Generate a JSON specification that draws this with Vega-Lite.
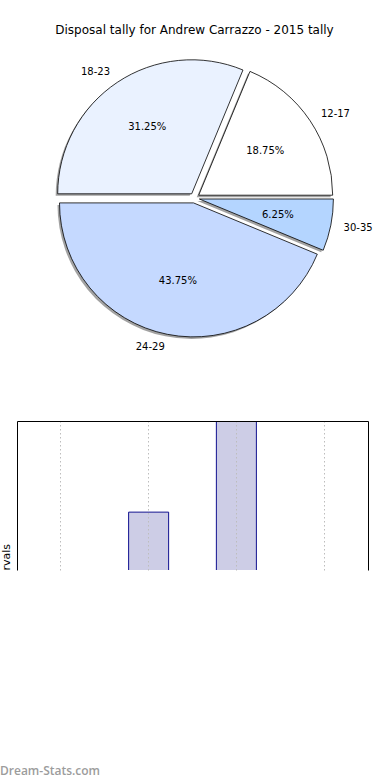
{
  "$schema": "https://vega.github.io/schema/vega-lite/v6.json",
  "padding": {"top": 24, "left": 0, "right": 0, "bottom": 0},
  "background": "white",
  "config": {"view": {"stroke": null}, "font": "DejaVu Sans", "axis": {"domainWidth": 1, "domainColor": "black"}},
  "title": {"text": "Dream-Stats.com", "orient": "bottom", "anchor": "start", "color": "#9c9c9c", "font": "Open Sans", "fontSize": 12, "fontWeight": 600, "offset": 72, "frame": "bounds"},
  "datasets": {
    "tally": [
      {"range": "12-17", "share": 0.1875, "count": 3},
      {"range": "18-23", "share": 0.3125, "count": 5},
      {"range": "24-29", "share": 0.4375, "count": 7},
      {"range": "30-35", "share": 0.0625, "count": 1}
    ]
  },
  "spacing": 68,
  "vconcat": [
    {
      "width": 355,
      "height": 302,
      "title": {"text": "Disposal tally for Andrew Carrazzo - 2015 tally", "font": "DejaVu Sans", "fontSize": 12, "fontWeight": "normal", "color": "black", "offset": 10, "anchor": "middle"},
      "data": {"name": "tally"},
      "encoding": {
        "theta": {"field": "share", "type": "quantitative", "stack": true, "scale": {"domain": [0, 1], "range": [1.5708, -4.7124]}},
        "order": {"field": "range", "type": "ordinal", "sort": "ascending"}
      },
      "layer": [
        {
          "mark": {"type": "arc", "outerRadius": 134, "fill": "#7a7a7a", "opacity": 0.7,
            "xOffset": {"expr": "(datum.range === '12-17' ? 4.2 : datum.range === '18-23' ? -2.8 : datum.range === '24-29' ? -1 : 4.9) - 2"},
            "yOffset": {"expr": "(datum.range === '12-17' ? -2.8 : datum.range === '18-23' ? -4.2 : datum.range === '24-29' ? 4.9 : 1) + 2"}}
        },
        {
          "mark": {"type": "arc", "outerRadius": 134, "stroke": "black", "strokeWidth": 0.8,
            "xOffset": {"expr": "datum.range === '12-17' ? 4.2 : datum.range === '18-23' ? -2.8 : datum.range === '24-29' ? -1 : 4.9"},
            "yOffset": {"expr": "datum.range === '12-17' ? -2.8 : datum.range === '18-23' ? -4.2 : datum.range === '24-29' ? 4.9 : 1"}},
          "encoding": {
            "color": {"field": "range", "type": "nominal", "legend": null, "scale": {"domain": ["12-17", "18-23", "24-29", "30-35"], "range": ["#ffffff", "#eaf2ff", "#c5d9ff", "#b4d5ff"]}}
          }
        },
        {
          "mark": {"type": "text", "radius": 80, "fontSize": 10, "color": "black",
            "xOffset": {"expr": "datum.range === '12-17' ? 4.2 : datum.range === '18-23' ? -2.8 : datum.range === '24-29' ? -1 : 4.9"},
            "yOffset": {"expr": "datum.range === '12-17' ? -2.8 : datum.range === '18-23' ? -4.2 : datum.range === '24-29' ? 4.9 : 1"}},
          "encoding": {"text": {"field": "share", "type": "quantitative", "format": ".2%"}}
        },
        {
          "mark": {"type": "text", "radius": 147, "fontSize": 10, "color": "black",
            "align": {"expr": "datum.range === '12-17' || datum.range === '30-35' ? 'left' : 'right'"},
            "xOffset": {"expr": "datum.range === '12-17' ? 4.2 : datum.range === '18-23' ? -2.8 : datum.range === '24-29' ? -1 : 4.9"},
            "yOffset": {"expr": "datum.range === '12-17' ? -2.8 : datum.range === '18-23' ? -4.2 : datum.range === '24-29' ? 4.9 : 1"}},
          "encoding": {"text": {"field": "range", "type": "nominal"}}
        }
      ]
    },
    {
      "width": 351,
      "height": 149,
      "data": {"name": "tally"},
      "layer": [
        {
          "mark": {"type": "bar", "clip": true, "fill": "#cdcde6", "stroke": "#10108f", "strokeWidth": 1},
          "encoding": {
            "x": {"field": "range", "type": "nominal", "scale": {"paddingInner": 0.544, "paddingOuter": 0.272},
              "axis": {"orient": "top", "labels": false, "ticks": false, "title": null, "grid": true, "gridColor": "#bdbdbd", "gridDash": [1.5, 2.5], "gridWidth": 1, "zindex": 1}},
            "y": {"field": "count", "type": "quantitative", "scale": {"domain": [3.73, 7], "zero": false, "nice": false},
              "axis": {"orient": "left", "labels": false, "ticks": false, "grid": false, "title": "rvals", "titleFontSize": 11, "titleFontWeight": "normal", "titleColor": "black", "titlePadding": 6, "titleAnchor": "start"}}
          }
        },
        {
          "mark": {"type": "rule", "opacity": 0},
          "encoding": {
            "y": {"field": "count", "type": "quantitative", "scale": {"domain": [3.73, 7], "zero": false, "nice": false},
              "axis": {"orient": "right", "labels": false, "ticks": false, "grid": false, "title": null}}
          }
        }
      ],
      "resolve": {"scale": {"y": "independent"}, "axis": {"y": "independent"}}
    }
  ]
}
